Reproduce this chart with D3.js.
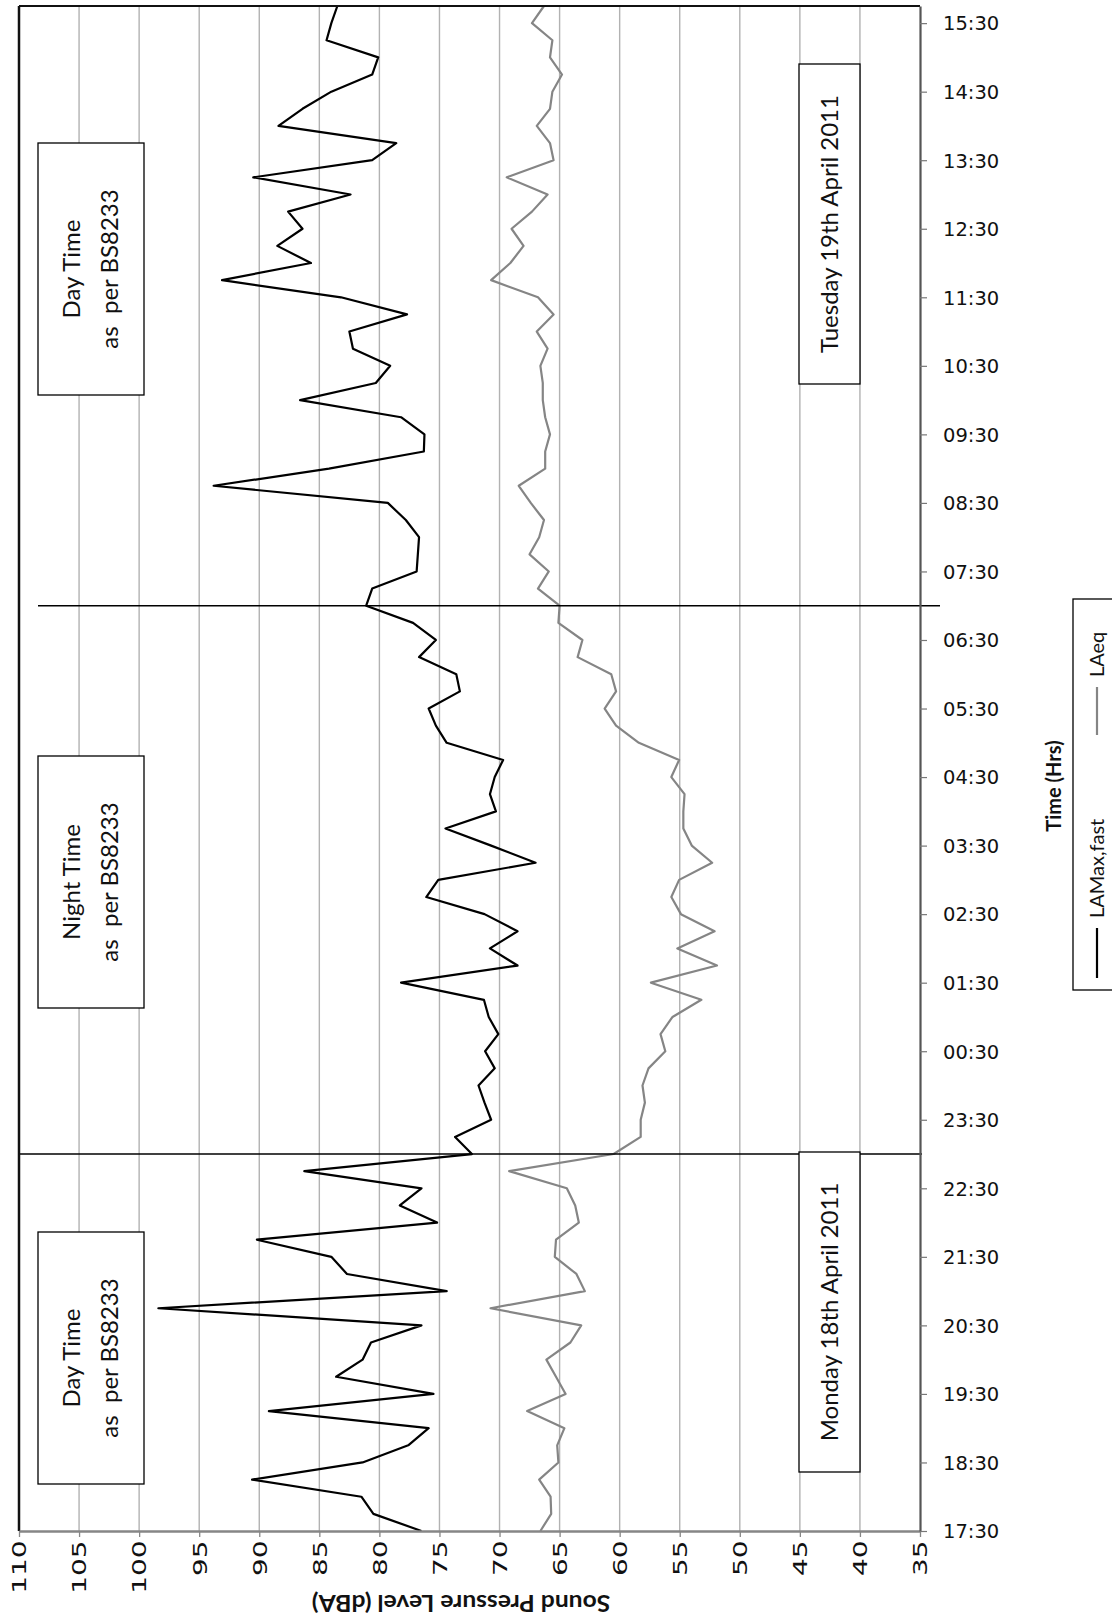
<!DOCTYPE html>
<html><head><meta charset="utf-8">
<script src="https://cdn.jsdelivr.net/npm/d3@7"></script>
<style>
body{margin:0;background:#fff;}
svg{display:block;}
</style></head><body>
<svg id="chart" width="1112" height="1620"></svg>
<script>
// ---------------- DATA ----------------
const times = ["17:30","17:45","18:00","18:15","18:30","18:45","19:00","19:15","19:30","19:45",
"20:00","20:15","20:30","20:45","21:00","21:15","21:30","21:45","22:00","22:15",
"22:30","22:45","23:00","23:15","23:30","23:45","00:00","00:15","00:30","00:45",
"01:00","01:15","01:30","01:45","02:00","02:15","02:30","02:45","03:00","03:15",
"03:30","03:45","04:00","04:15","04:30","04:45","05:00","05:15","05:30","05:45",
"06:00","06:15","06:30","06:45","07:00","07:15","07:30","07:45","08:00","08:15",
"08:30","08:45","09:00","09:15","09:30","09:45","10:00","10:15","10:30","10:45",
"11:00","11:15","11:30","11:45","12:00","12:15","12:30","12:45","13:00","13:15",
"13:30","13:45","14:00","14:15","14:30","14:45","15:00","15:15","15:30","15:45"];

const timeTicks = ["17:30","18:30","19:30","20:30","21:30","22:30","23:30","00:30","01:30","02:30",
"03:30","04:30","05:30","06:30","07:30","08:30","09:30","10:30","11:30","12:30","13:30","14:30","15:30"];

const dbTicks = [110,105,100,95,90,85,80,75,70,65,60,55,50,45,40,35];

const laMaxFast = [76.5,80.5,81.5,90.6,81.4,77.6,75.9,89.2,75.5,83.6,
 81.4,80.7,76.5,98.4,74.4,82.7,84.0,90.2,75.2,78.3,
 76.5,86.25,72.3,73.7,70.7,71.25,71.75,70.4,71.2,70.1,
 70.9,71.3,78.2,68.5,70.8,68.5,71.25,76.1,75.1,67.0,
 70.7,74.5,70.3,70.8,70.4,69.7,74.4,75.3,75.9,73.3,
 73.6,76.7,75.3,77.2,81.1,80.6,76.9,76.8,76.7,77.8,
 79.3,93.8,84.2,76.3,76.25,78.2,86.6,80.3,79.1,82.2,
 82.5,77.7,83.2,93.1,85.7,88.5,86.4,87.6,82.4,90.5,
 80.6,78.6,88.4,86.4,84.0,80.6,80.1,84.4,84.0,83.5];

const laEq = [66.6,65.7,65.75,66.7,65.1,65.2,64.6,67.7,64.5,65.3,
 66.1,64.1,63.2,70.75,62.9,63.6,65.4,65.3,63.4,63.7,
 64.4,69.2,60.5,58.25,58.25,57.9,58.1,57.6,56.2,56.6,
 55.6,53.2,57.4,51.9,55.2,52.1,54.9,55.7,55.05,52.3,
 54.0,54.7,54.7,54.6,55.7,55.05,58.4,60.3,61.25,60.3,
 60.7,63.5,63.1,65.1,65.0,66.8,65.9,67.5,66.7,66.3,
 67.4,68.4,66.2,66.2,65.8,66.2,66.4,66.4,66.6,66.0,
 66.9,65.5,66.8,70.7,69.1,68.0,69.0,67.3,66.0,69.4,
 65.5,65.8,66.9,65.8,65.6,64.8,65.8,65.6,67.3,66.3];

const seriesNames = ["LAMax,fast","LAeq"];
const periodBoundaries = ["23:00","07:00"];
const periodLabels = [
  ["Day Time","as  per BS8233"],
  ["Night Time","as  per BS8233"],
  ["Day Time","as  per BS8233"]
];
const dateLabels = ["Tuesday 19th April 2011","Monday 18th April 2011"];
const xTitle = "Sound Pressure Level (dBA)";
const yTitle = "Time (Hrs)";

// ---------------- LAYOUT ----------------
const P = {left:19, right:920, top:6, bottom:1531};
const svg = d3.select("#chart");

const x = d3.scaleLinear().domain([110,35]).range([P.left, P.right]);
const y = d3.scalePoint().domain(times).range([P.bottom, P.top]);

// gridlines
svg.append("g").selectAll("line").data(dbTicks.slice(1,-1)).join("line")
  .attr("x1", d=>x(d)).attr("x2", d=>x(d))
  .attr("y1", P.top).attr("y2", P.bottom)
  .attr("stroke","#b2b2b2").attr("stroke-width",1.4);

// series lines
const series = [
  {name:seriesNames[0], values:laMaxFast, color:"#000000"},
  {name:seriesNames[1], values:laEq, color:"#858585"}
];
const line = d3.line().x(d=>x(d.v)).y(d=>y(d.t));
svg.append("g").selectAll("path").data(series.slice().reverse()).join("path")
  .attr("d", s => line(s.values.map((v,i)=>({t:times[i], v}))))
  .attr("fill","none").attr("stroke", s=>s.color)
  .attr("stroke-width",2.2).attr("stroke-linejoin","round");

// period boundary lines
const boundaryExtent = [[P.left, P.right+2],[38, 940]];
svg.append("g").selectAll("line").data(periodBoundaries).join("line")
  .attr("x1", (d,i)=>boundaryExtent[i][0]).attr("x2",(d,i)=>boundaryExtent[i][1])
  .attr("y1", d=>y(d)).attr("y2", d=>y(d))
  .attr("stroke","#000").attr("stroke-width",1.5);

// plot border top & left
svg.append("line").attr("x1",P.left).attr("x2",P.right).attr("y1",P.top).attr("y2",P.top)
  .attr("stroke","#111").attr("stroke-width",2);
svg.append("line").attr("x1",P.left).attr("x2",P.left).attr("y1",P.top).attr("y2",P.bottom)
  .attr("stroke","#111").attr("stroke-width",2.5);

// bottom (dB) axis
const gx = svg.append("g").attr("transform",`translate(0,${P.bottom})`)
  .call(d3.axisBottom(x).tickValues(dbTicks).tickSize(6).tickSizeOuter(0));
gx.select(".domain").attr("stroke","#868686").attr("stroke-width",2.5);
gx.selectAll(".tick line").attr("stroke","#868686").attr("stroke-width",1.3);
gx.selectAll(".tick text")
  .attr("transform","rotate(-90) scale(1.47,1)").attr("x",-6.5).attr("y",0).attr("dy","0.36em")
  .attr("text-anchor","end")
  .style("font-family","'DejaVu Sans'").style("font-size","19px").attr("fill","#111");

// right (time) axis
const gy = svg.append("g").attr("transform",`translate(${P.right},0)`)
  .call(d3.axisRight(y).tickValues(timeTicks).tickSize(7).tickSizeOuter(0));
gy.select(".domain").attr("stroke","#555").attr("stroke-width",2.2);
gy.selectAll(".tick line").attr("stroke","#777").attr("stroke-width",1.2);
gy.selectAll(".tick text").attr("x",23).attr("dy","0.35em")
  .style("font-family","'DejaVu Sans'").style("font-size","19.5px").attr("fill","#111");

// annotation boxes
const periodBoxes = [
  {x:38, y:143, w:106, h:252},
  {x:38, y:756, w:106, h:252},
  {x:38, y:1232, w:106, h:252}
];
const dateBoxes = [
  {x:799, y:64, w:61, h:320},
  {x:799, y:1152, w:61, h:320}
];
function box(b, lines, lh){
  const g = svg.append("g");
  g.append("rect").attr("x",b.x).attr("y",b.y).attr("width",b.w).attr("height",b.h)
    .attr("fill","#fff").attr("stroke","#000").attr("stroke-width",1.3);
  const t = g.append("text")
    .attr("transform",`translate(${b.x+b.w/2},${b.y+b.h/2}) rotate(-90)`)
    .attr("text-anchor","middle")
    .style("font-family","Lato").style("font-size","24px").attr("fill","#111")
    .attr("xml:space","preserve").style("white-space","pre");
  lines.forEach((l,i)=>{
    t.append("tspan").attr("x",0)
     .attr("y", (i-(lines.length-1)/2)*lh).attr("dy","0.35em").text(l);
  });
}
periodBoxes.forEach((b,i)=>box(b, periodLabels[i], 38));
dateBoxes.forEach((b,i)=>box(b, [dateLabels[i]], 0));

// axis titles
svg.append("text").attr("transform","translate(461,1603) rotate(180) scale(1.12,1)")
  .attr("text-anchor","middle").attr("dy","0.35em")
  .style("font-family","Lato").style("font-weight","bold").style("font-size","22px")
  .attr("fill","#111").text(xTitle);
svg.append("text").attr("transform","translate(1054,786) rotate(-90)")
  .attr("text-anchor","middle").attr("dy","0.35em")
  .style("font-family","Lato").style("font-weight","bold").style("font-size","20px")
  .attr("fill","#111").text(yTitle);

// legend
const lg = svg.append("g");
lg.append("rect").attr("x",1073).attr("y",599).attr("width",80).attr("height",391)
  .attr("fill","#fff").attr("stroke","#000").attr("stroke-width",1.3);
const legendPos = [{y0:978, y1:928, ty:918},{y0:735, y1:687, ty:677}];
series.forEach((s,i)=>{
  const p = legendPos[i];
  lg.append("line").attr("x1",1097).attr("x2",1097).attr("y1",p.y0).attr("y2",p.y1)
    .attr("stroke",s.color).attr("stroke-width",2.2);
  lg.append("text").attr("transform",`translate(1097,${p.ty}) rotate(-90)`)
    .attr("text-anchor","start").attr("dy","0.35em")
    .style("font-family","Lato").style("font-size","20px").attr("fill","#111").text(s.name);
});
</script>
</body></html>
